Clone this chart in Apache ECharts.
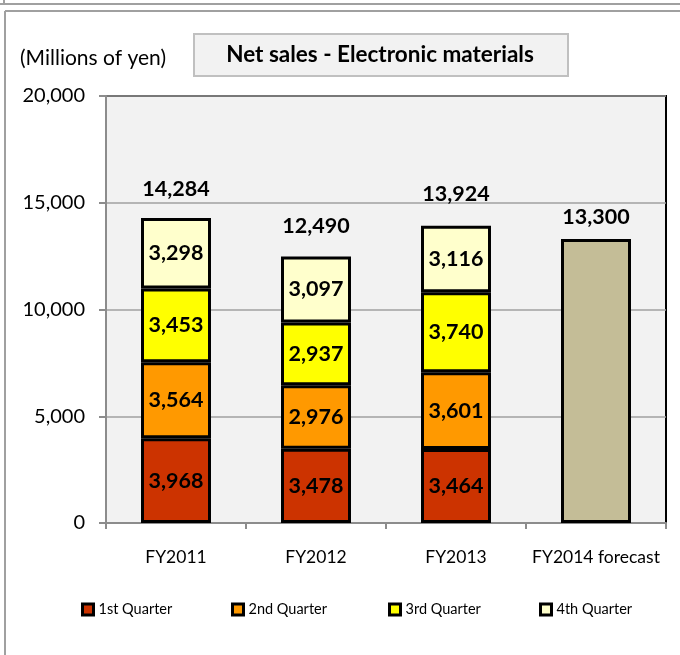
<!DOCTYPE html>
<html>
<head>
<meta charset="utf-8">
<script src="https://cdn.jsdelivr.net/npm/echarts@6/dist/echarts.min.js"></script>
<style>
html,body{margin:0;padding:0;background:#fff;}
#chart{width:680px;height:655px;}
</style>
</head>
<body>
<div id="chart"></div>
<script>
const categories = ['FY2011', 'FY2012', 'FY2013', 'FY2014 forecast'];
const q1 = [3968, 3478, 3464, null];
const q2 = [3564, 2976, 3601, null];
const q3 = [3453, 2937, 3740, null];
const q4 = [3298, 3097, 3116, null];
const forecast = [null, null, null, 13300];
const totals = [14284, 12490, 13924, 13300];
const yTicks = [0, 5000, 10000, 15000, 20000];
const seriesNames = ['1st Quarter', '2nd Quarter', '3rd Quarter', '4th Quarter'];

const colors = ['#cc3300', '#ff9900', '#ffff00', '#ffffcc'];
const totalLabelDistance = [18, 19, 21, 11];
const legendLeft = [76, 226, 383, 534];
const FONT = 'Lato, "Open Sans", sans-serif';

function fmt(v) { return String(v).replace(/\B(?=(\d{3})+(?!\d))/g, ','); }

const chart = echarts.init(document.getElementById('chart'), null, { renderer: 'canvas' });

const quarterData = [q1, q2, q3, q4];
const series = quarterData.map((d, i) => ({
  name: seriesNames[i],
  type: 'bar',
  stack: 'a',
  barWidth: '50%',
  data: d,
  itemStyle: { color: colors[i], borderColor: '#000', borderWidth: 3 },
  label: {
    show: true, position: 'inside', color: '#000',
    fontFamily: FONT, fontWeight: 'bold', fontSize: 21.5,
    formatter: p => fmt(p.value)
  },
  emphasis: { disabled: true }
}));
series.push({
  name: 'Forecast',
  type: 'bar',
  stack: 'a',
  barWidth: '50%',
  data: forecast,
  itemStyle: { color: '#c4bd97', borderColor: '#000', borderWidth: 3 },
  emphasis: { disabled: true }
});
series.push({
  name: 'Total',
  type: 'bar',
  stack: 'a',
  barWidth: '50%',
  data: totals.map((t, i) => ({ value: 0, label: { distance: totalLabelDistance[i] } })),
  itemStyle: { color: 'rgba(0,0,0,0)', borderWidth: 0 },
  label: {
    show: true, position: 'top', color: '#000',
    fontFamily: FONT, fontWeight: 'bold', fontSize: 21.5,
    formatter: p => fmt(totals[p.dataIndex])
  },
  emphasis: { disabled: true }
});

const legends = seriesNames.map((n, i) => ({
  data: [n],
  left: legendLeft[i],
  top: 597,
  itemWidth: 11,
  itemHeight: 11,
  itemGap: 0,
  selectedMode: false,
  icon: 'rect',
  itemStyle: { borderColor: '#000', borderWidth: 3 },
  textStyle: { fontFamily: FONT, fontSize: 14.5, color: '#000', padding: [0, 0, 0, 0] }
}));

const option = {
  animation: false,
  backgroundColor: '#fff',
  grid: {
    left: 106, right: 14, top: 96, bottom: 132,
    show: true, backgroundColor: '#f2f2f2', borderColor: '#000', borderWidth: 2
  },
  legend: legends,
  xAxis: {
    type: 'category',
    data: categories,
    axisLine: { lineStyle: { color: '#8c8c8c', width: 2 } },
    axisTick: { show: true, alignWithLabel: false, length: 6, lineStyle: { color: '#8c8c8c', width: 2 } },
    axisLabel: { interval: 0, color: '#000', fontFamily: FONT, fontSize: 17.5, margin: 25 }
  },
  yAxis: {
    type: 'value',
    min: yTicks[0],
    max: yTicks[yTicks.length - 1],
    interval: yTicks[1] - yTicks[0],
    axisLine: { show: true, lineStyle: { color: '#8c8c8c', width: 2 } },
    axisTick: { show: true, length: 7, lineStyle: { color: '#8c8c8c', width: 2 } },
    axisLabel: { color: '#000', fontFamily: FONT, fontSize: 20, margin: 21, formatter: v => fmt(v) },
    splitLine: { show: true, lineStyle: { color: '#a0a0a0', width: 1.5 } }
  },
  graphic: [
    { type: 'line', shape: { x1: 0, y1: 4, x2: 680, y2: 4 }, style: { stroke: '#a0a0a0', lineWidth: 2 }, silent: true },
    { type: 'line', shape: { x1: 4, y1: 0, x2: 4, y2: 4 }, style: { stroke: '#a0a0a0', lineWidth: 2 }, silent: true },
    { type: 'line', shape: { x1: 5, y1: 11, x2: 680, y2: 11 }, style: { stroke: '#a0a0a0', lineWidth: 2 }, silent: true },
    { type: 'line', shape: { x1: 5, y1: 11, x2: 5, y2: 655 }, style: { stroke: '#a0a0a0', lineWidth: 2 }, silent: true },
    { type: 'rect', shape: { x: 194, y: 34, width: 374, height: 42 }, style: { fill: '#f2f2f2', stroke: '#c0c0c0', lineWidth: 2 }, silent: true },
    { type: 'text', x: 380, y: 55, style: { text: 'Net sales - Electronic materials', fill: '#000', font: 'bold 22.5px ' + FONT, textAlign: 'center', textVerticalAlign: 'middle' }, silent: true },
    { type: 'text', x: 20, y: 58, style: { text: '(Millions of yen)', fill: '#000', font: '21px ' + FONT, textAlign: 'left', textVerticalAlign: 'middle' }, silent: true }
  ],
  series: series
};
chart.setOption(option);
</script>
</body>
</html>
